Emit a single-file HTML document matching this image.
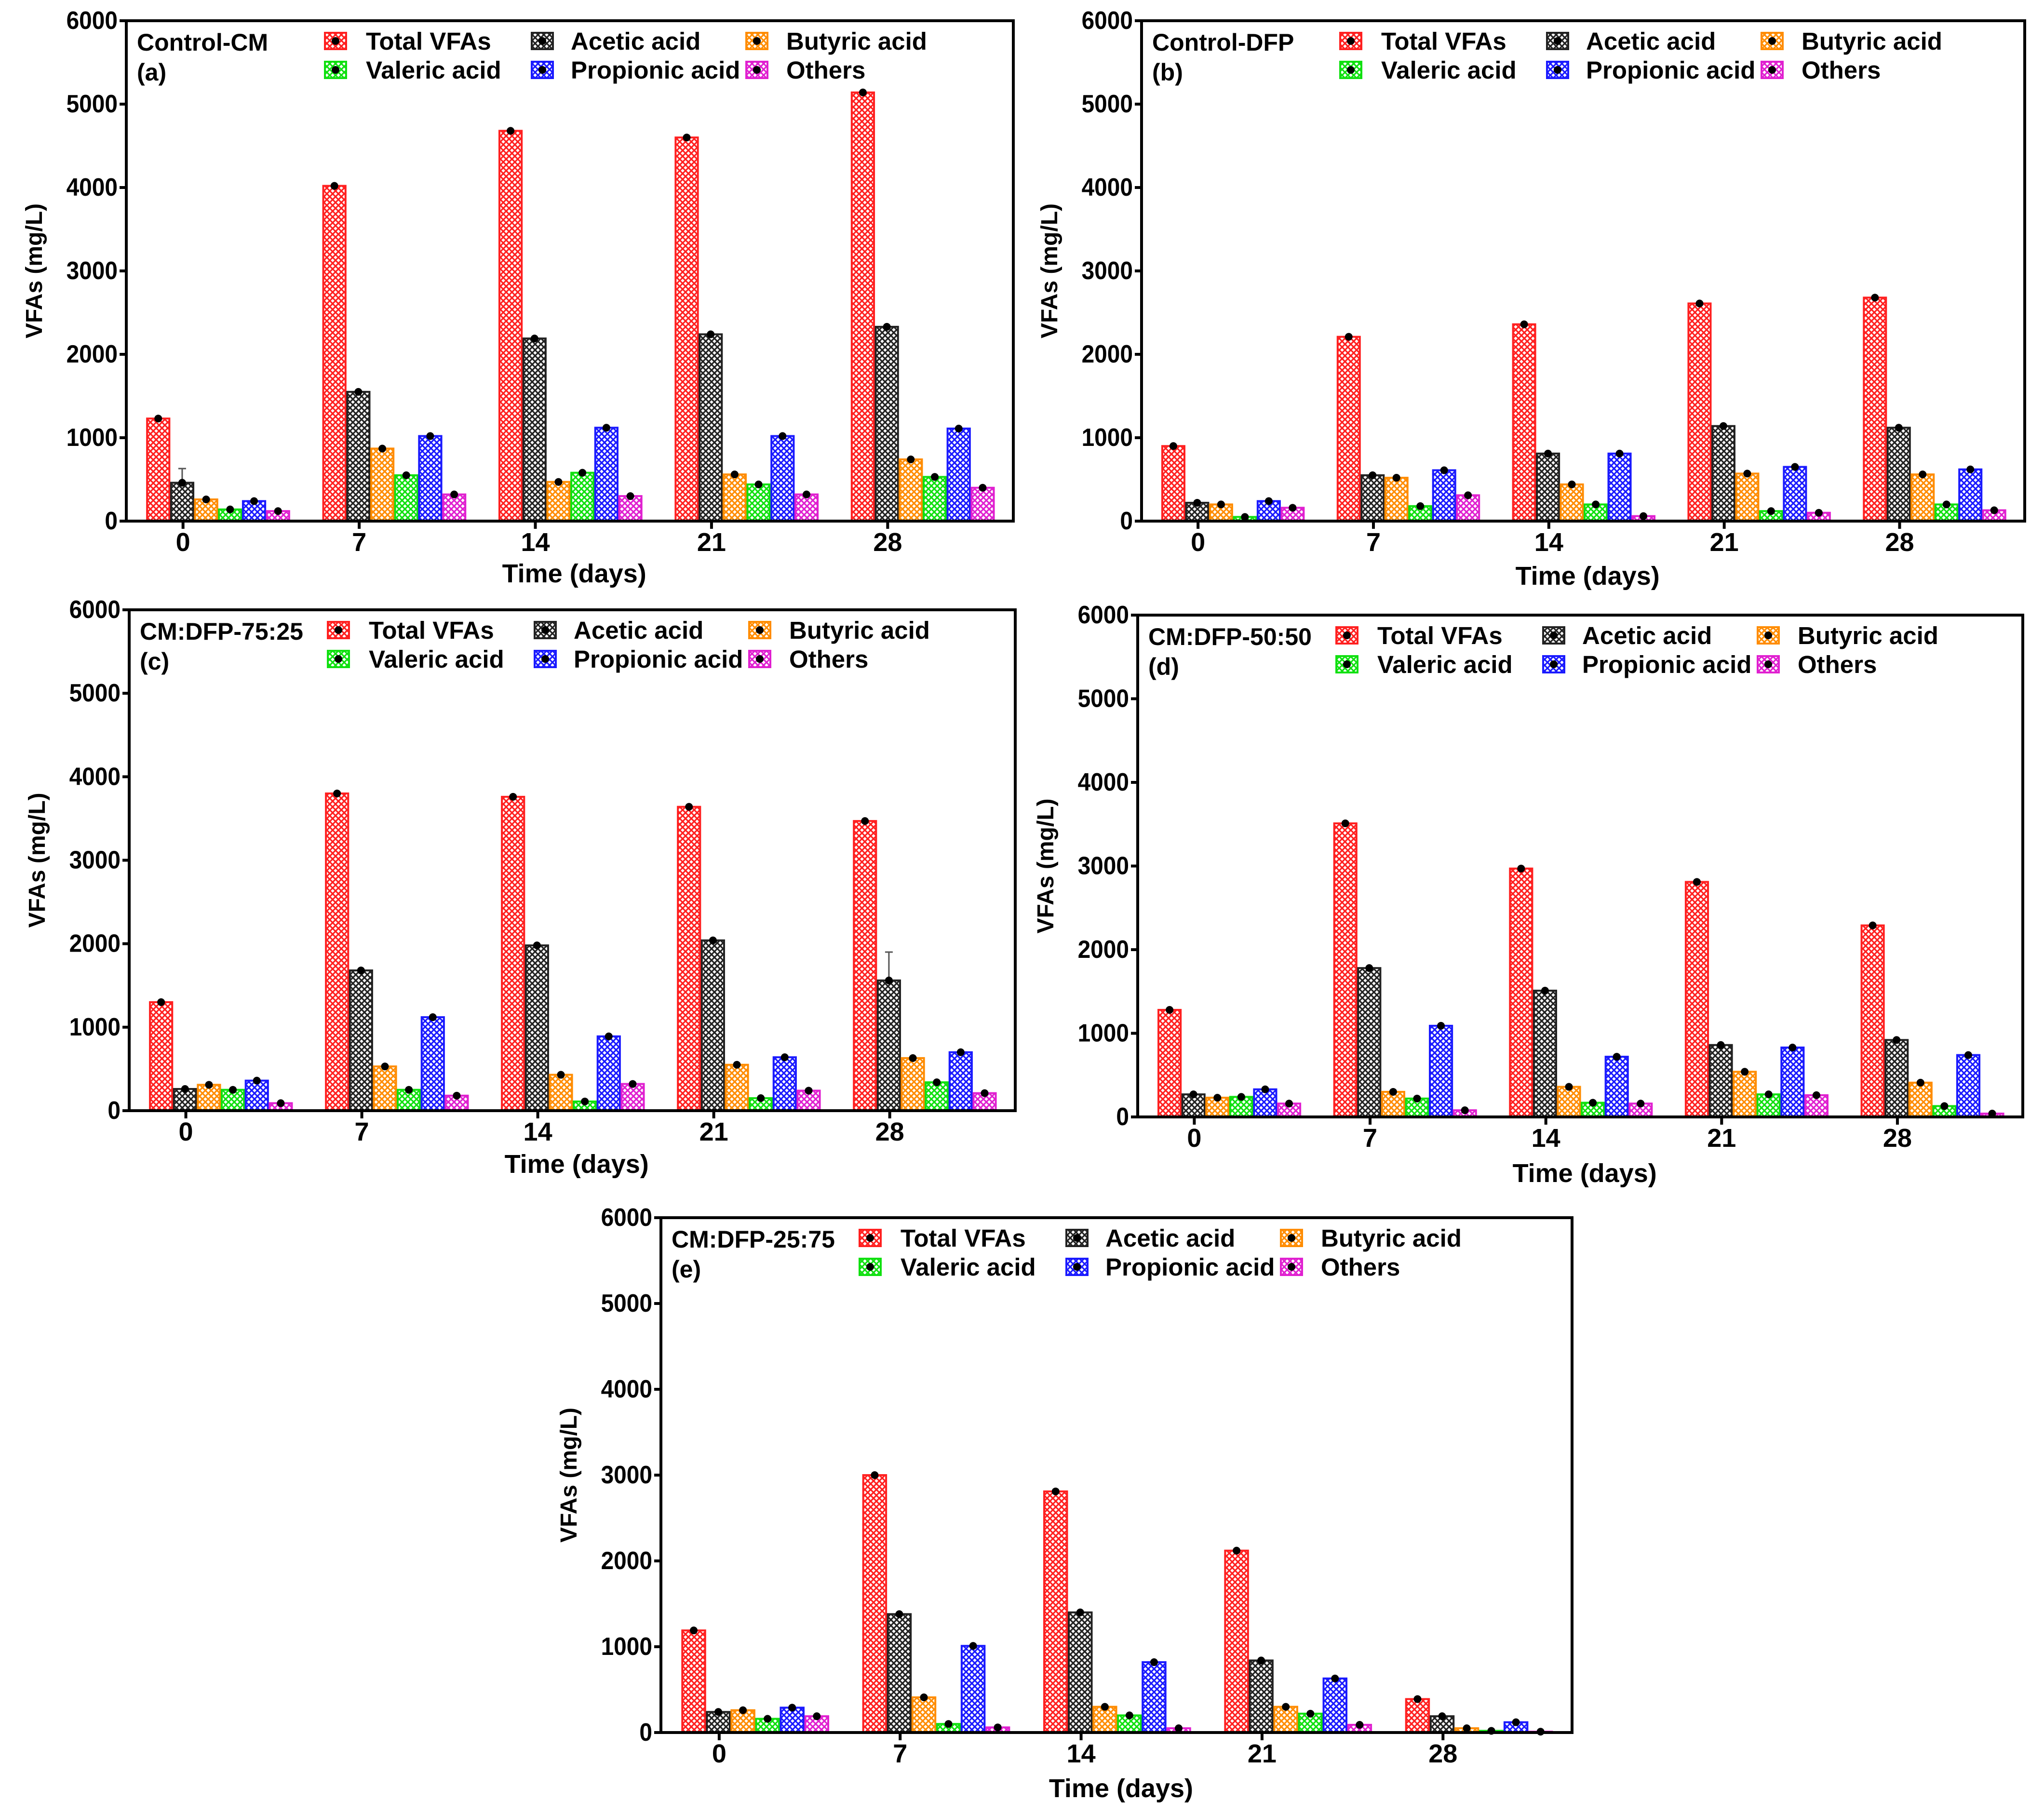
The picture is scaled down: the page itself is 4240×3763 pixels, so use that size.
<!DOCTYPE html>
<html><head><meta charset="utf-8">
<style>
html,body{margin:0;padding:0;background:#fff;}
svg{display:block;}
text{font-family:"Liberation Sans Narrow","Liberation Sans",sans-serif;font-weight:bold;fill:#000;}
.yt{font-family:"Liberation Sans",sans-serif;}
</style></head>
<body>
<svg id="chart" width="4240" height="3763" viewBox="0 0 4240 3763" xmlns="http://www.w3.org/2000/svg">
<defs id="defs"></defs>
</svg>
<script>
const categories = ["0","7","14","21","28"];
const seriesNames = ["Total VFAs","Acetic acid","Butyric acid","Valeric acid","Propionic acid","Others"];
const seriesColors = ["#ff2020","#222222","#ff8c00","#10e010","#1a1aff","#e020d0"];
const yTicks = [0,1000,2000,3000,4000,5000,6000];
const panelTitles = ["Control-CM","Control-DFP","CM:DFP-75:25","CM:DFP-50:50","CM:DFP-25:75"];
const panelLetters = ["(a)","(b)","(c)","(d)","(e)"];
const aTotal=[1230,4020,4680,4600,5140], aAcetic=[460,1550,2190,2240,2330], aButyric=[260,870,470,560,740], aValeric=[140,550,580,440,530], aPropionic=[240,1020,1120,1020,1110], aOthers=[120,320,300,320,400];
const bTotal=[900,2210,2360,2610,2680], bAcetic=[220,550,810,1140,1120], bButyric=[200,520,440,570,560], bValeric=[50,180,200,120,200], bPropionic=[240,610,810,650,620], bOthers=[160,310,60,100,130];
const cTotal=[1300,3800,3760,3640,3470], cAcetic=[260,1680,1980,2040,1560], cButyric=[310,530,430,550,630], cValeric=[250,250,110,150,340], cPropionic=[360,1120,890,640,700], cOthers=[90,180,320,240,210];
const dTotal=[1280,3510,2970,2810,2290], dAcetic=[270,1780,1510,860,920], dButyric=[230,300,360,540,410], dValeric=[240,220,170,270,130], dPropionic=[330,1090,720,830,740], dOthers=[160,80,160,260,40];
const eTotal=[1190,3000,2810,2120,390], eAcetic=[240,1380,1400,840,190], eButyric=[260,410,300,300,50], eValeric=[160,100,200,220,20], ePropionic=[290,1010,820,630,120], eOthers=[190,60,50,90,10];
const panelData = [
 [aTotal,aAcetic,aButyric,aValeric,aPropionic,aOthers],
 [bTotal,bAcetic,bButyric,bValeric,bPropionic,bOthers],
 [cTotal,cAcetic,cButyric,cValeric,cPropionic,cOthers],
 [dTotal,dAcetic,dButyric,dValeric,dPropionic,dOthers],
 [eTotal,eAcetic,eButyric,eValeric,ePropionic,eOthers]];
const errTop = {"0-1-0":630,"2-1-4":1900};

const boxes = [
 {l:262,r:2102,t:43,b:1081,xt:1190},
 {l:2368,r:4200,t:43,b:1081,xt:1195},
 {l:268,r:2106,t:1265,b:2304,xt:2415},
 {l:2360,r:4196,t:1276,b:2317,xt:2434},
 {l:1371,r:3261,t:2526,b:3594,xt:3710}];

const NS="http://www.w3.org/2000/svg";
const svg=document.getElementById('chart');
const defs=document.getElementById('defs');
function mk(tag,attrs,parent){const e=document.createElementNS(NS,tag);for(const k in attrs)e.setAttribute(k,attrs[k]);(parent||svg).appendChild(e);return e;}

seriesColors.forEach((c,i)=>{
  const p=mk('pattern',{id:'hatch'+i,patternUnits:'userSpaceOnUse',width:12,height:12},defs);
  mk('rect',{x:0,y:0,width:12,height:12,fill:'#fff'},p);
  mk('path',{d:'M-3,3 L3,-3 M0,12 L12,0 M9,15 L15,9 M-3,9 L3,15 M0,0 L12,12 M9,-3 L15,3',stroke:c,'stroke-width':3.2},p);
});

boxes.forEach((B,pi)=>{
  const g=mk('g',{});
  
  
  const W=B.r-B.l, H=B.b-B.t;
  const yS=v=>B.b-v/6000*H;
  const band=W/5*0.993, slot=band*0.136, bw=slot*0.93, off=band*0.118;
  yTicks.forEach(v=>{
    const y=yS(v);
    mk('line',{x1:B.l-14,x2:B.l,y1:y,y2:y,stroke:'#000','stroke-width':6},g);
    const t=mk('text',{x:B.l-18,y:y+17,'text-anchor':'end','font-size':52,transform:`translate(${B.l-18},0) scale(0.92,1) translate(${-(B.l-18)},0)`},g);
    t.textContent=v;
    
    
  });
  const yt=mk('text',{class:'yt',x:0,y:0,'text-anchor':'middle','font-size':48,transform:`translate(${B.l-175},${(B.t+B.b)/2}) rotate(-90)`},g);
  yt.textContent='VFAs (mg/L)';
  
  
  categories.forEach((cat,ci)=>{
    const gx=B.l+ci*band+off;
    const tx=gx+slot*1.5;
    mk('line',{x1:tx,x2:tx,y1:B.b,y2:B.b+16,stroke:'#000','stroke-width':6},g);
    const tl=mk('text',{x:tx,y:B.b+62,'text-anchor':'middle','font-size':54},g);
    tl.textContent=cat;
    
    
    panelData[pi].forEach((ser,si)=>{
      const v=ser[ci]; const x=gx+si*slot; const y=yS(v);
      const r=mk('rect',{x:x,y:y,width:bw,height:B.b-y,fill:'url(#hatch'+si+')',stroke:seriesColors[si],'stroke-width':4},g);
      
      
      const key=pi+'-'+si+'-'+ci;
      if(errTop[key]){
        const ey=yS(errTop[key]);
        mk('line',{x1:x+bw/2,x2:x+bw/2,y1:y,y2:ey,stroke:'#555','stroke-width':3},g);
        mk('line',{x1:x+bw/2-8,x2:x+bw/2+8,y1:ey,y2:ey,stroke:'#555','stroke-width':3},g);
      }
      mk('circle',{cx:x+bw/2,cy:y,r:8,fill:'#000'},g);
    });
  });
  const fr=mk('rect',{x:B.l,y:B.t,width:W,height:H,fill:'none',stroke:'#000','stroke-width':6},g);
  
  
  const xt=mk('text',{x:B.l+W*0.505,y:B.xt+18,'text-anchor':'middle','font-size':54},g);
  xt.textContent='Time (days)';
  
  
  const pt=mk('text',{x:B.l+22,y:B.t+62,'font-size':50},g);
  pt.textContent=panelTitles[pi];
  
  
  const pl=mk('text',{x:B.l+22,y:B.t+124,'font-size':50},g);
  pl.textContent=panelLetters[pi];
  
  
  const cols=[412,841,1286], txo=[497,922,1369];
  [0,1,2,3,4,5].forEach((si,k)=>{
    const col=k%3, row=Math.floor(k/3);
    const sx=B.l+cols[col], cy=B.t+42+row*60;
    const lg=mk('g',{},g);
    
    
    mk('rect',{x:sx,y:cy-17,width:44,height:34,fill:'url(#hatch'+si+')',stroke:seriesColors[si],'stroke-width':4},lg);
    mk('circle',{cx:sx+22,cy:cy,r:8,fill:'#000'},lg);
    const t=mk('text',{x:B.l+txo[col],y:cy+18,'font-size':51},lg);
    t.textContent=seriesNames[si];
  });
});
</script>
</body></html>
